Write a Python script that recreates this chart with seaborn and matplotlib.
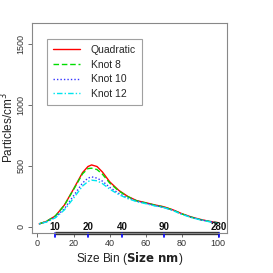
import numpy as np
import pandas as pd
import matplotlib
matplotlib.use('Agg')
import matplotlib.pyplot as plt
import seaborn as sns

# size bin index and estimated particle counts per fit
size_bin = [1, 5, 10, 15, 20, 25, 28, 30, 33, 36, 40, 45, 50, 55, 60, 65, 70, 75, 80, 85, 90, 95, 100]
quadratic = [25, 45, 90, 180, 310, 445, 495, 508, 495, 450, 370, 300, 250, 215, 198, 180, 165, 140, 108, 82, 62, 46, 35]
knot8 = [25, 45, 90, 178, 305, 435, 478, 481, 470, 432, 360, 295, 248, 213, 196, 178, 163, 138, 106, 80, 60, 45, 33]
knot10 = [25, 42, 80, 150, 255, 360, 400, 410, 400, 375, 325, 275, 238, 210, 193, 175, 160, 136, 104, 79, 59, 44, 33]
knot12 = [25, 40, 75, 140, 235, 335, 372, 383, 378, 355, 310, 265, 232, 207, 190, 172, 158, 134, 102, 78, 58, 43, 32]

# secondary axis: bin index of each size label
size_pos = [9.5, 28, 47, 70, 100.5]
size_nm = ['10', '20', '40', '90', '280']

series = {'Quadratic': quadratic, 'Knot 8': knot8, 'Knot 10': knot10, 'Knot 12': knot12}
df = pd.DataFrame([(k, x, v) for k, vals in series.items() for x, v in zip(size_bin, vals)],
                  columns=['fit', 'bin', 'count'])

sns.set_style('white')
plt.rcParams['font.family'] = ['Liberation Sans', 'DejaVu Sans']

fig = plt.figure(figsize=(2.73, 2.73), dpi=100)
ax = fig.add_axes([0.117, 0.147, 0.715, 0.769])

colors = {'Quadratic': '#FF0000', 'Knot 8': '#00DD00', 'Knot 10': '#3333FF', 'Knot 12': '#00E5EE'}
styles = {'Quadratic': '-', 'Knot 8': (0, (4, 2)), 'Knot 10': (0, (1, 1.5)), 'Knot 12': (0, (1, 1.5, 4, 1.5))}
for name in series:
    sub = df[df['fit'] == name]
    sns.lineplot(data=sub, x='bin', y='count', ax=ax, color=colors[name], lw=1.0,
                 linestyle=styles[name], label=name)

ax.set_xlim(-3, 105)
ax.set_ylim(-49, 1672)
ax.set_xticks([0, 20, 40, 60, 80, 100])
ax.set_yticks([0, 500, 1000, 1500])
ax.tick_params(axis='both', labelsize=6.5, length=3, width=0.6, color='#555555',
               labelcolor='#333333', pad=1.5, direction='out', bottom=True, left=True)
for lab in ax.get_yticklabels():
    lab.set_rotation(90)
    lab.set_va('center')
for sp in ax.spines.values():
    sp.set_color('#888888')
    sp.set_linewidth(0.8)

ax.set_xlabel('Size Bin ($\\bf{Size\\ nm}$)', fontsize=8.5, labelpad=1, color='#222222')
ax.set_ylabel('Particles/cm$^3$', fontsize=8.5, labelpad=0, color='#222222')

# secondary size axis along the bottom
trans = ax.get_xaxis_transform()
ax.plot([size_pos[0], size_pos[-1]], [0, 0], transform=trans, color='#333333', lw=2.4,
        clip_on=False, solid_capstyle='butt')
for p, t in zip(size_pos, size_nm):
    ax.plot([p, p], [0, -0.022], transform=trans, color='#0000FF', lw=1.2, clip_on=False)
    ax.text(p, 0.004, t, transform=trans, ha='center', va='bottom', fontsize=7,
            fontweight='bold', color='#111111')

leg = ax.legend(loc='upper left', bbox_to_anchor=(0.05, 0.95), fontsize=7.5, frameon=True,
                fancybox=False, edgecolor='#888888', handlelength=2.6, borderpad=0.6,
                labelspacing=0.45, handletextpad=1.0)
leg.get_frame().set_linewidth(0.8)

fig.savefig('out.png', dpi=100)
